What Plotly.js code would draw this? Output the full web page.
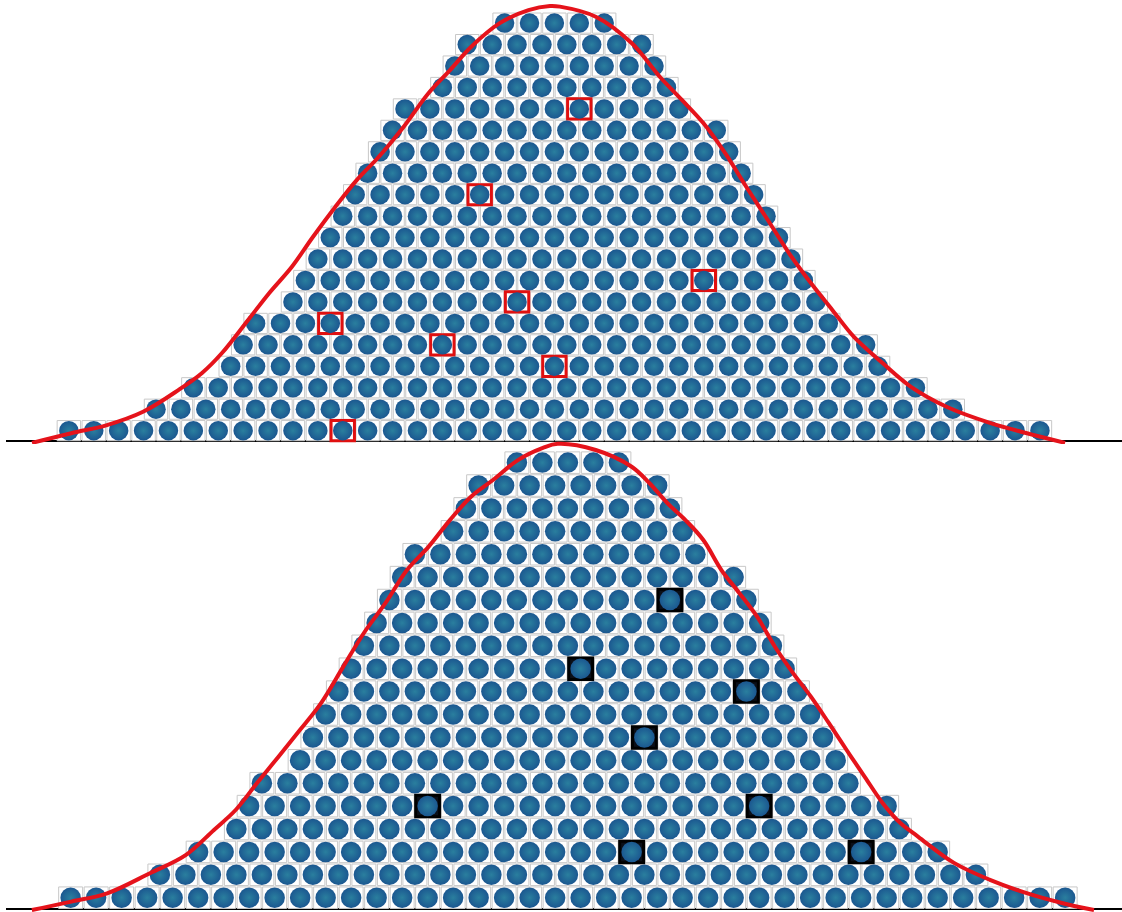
<!DOCTYPE html>
<html>
<head>
<meta charset="utf-8">
<script src="https://cdn.plot.ly/plotly-3.0.1.min.js"></script>
<style>
  html, body { margin: 0; padding: 0; background: #ffffff; }
  #chart { width: 1122px; height: 912px; }
</style>
</head>
<body>
<div id="chart"></div>
<script>
// Two stacked dot histograms (same stack profile), each with its fitted bell curve
// Row 0 is the bottom row; x is measured in cell widths
const rowStart = [0, 3.5, 5, 6.5, 7, 7.5, 9, 9.5, 10, 10.5, 11, 11.5, 12, 12.5, 13, 13.5, 15, 15.5, 16, 17.5];
const rowCount = [40, 33, 30, 27, 26, 24, 22, 21, 20, 19, 18, 17, 16, 15, 14, 12, 10, 9, 8, 5];

// highlighted samples: red boxes on top, black boxes below
const topMarkRow = [0, 3, 4, 5, 6, 7, 11, 15];
const topMarkX = [11.5, 20, 15.5, 11, 18.5, 26, 17, 21];
const botMarkRow = [2, 2, 4, 4, 7, 9, 10, 13];
const botMarkX = [22.5, 31.5, 14.5, 27.5, 23, 27, 20.5, 24];

// bell curves
const topCurveX = [-0.98, 0.6, 2.03, 3.48, 4.91, 5.85, 6.65, 7.7, 8.55, 9.45, 10.3, 11.2, 12.07, 12.94, 13.94, 14.95, 15.81, 16.65, 17.82, 18.96, 19.82, 20.22, 21.66, 23.1, 24.24, 25.12, 25.98, 26.85, 27.71, 28.57, 29.42, 30.3, 31.16, 32.03, 33.18, 34.32, 35.77, 37.49, 38.94, 40.51];
const topCurveY = [-0.07, 0.38, 0.76, 1.38, 2.4, 3.19, 4.12, 5.66, 6.92, 8.13, 9.53, 10.93, 12.19, 13.26, 14.66, 16.24, 17.31, 18.39, 19.51, 20.11, 20.3, 20.27, 19.8, 18.57, 16.99, 15.92, 14.84, 13.45, 11.86, 10.32, 8.78, 7.38, 6.13, 4.87, 3.65, 2.54, 1.6, 0.86, 0.39, -0.07];
const botCurveX = [-1.02, 0.53, 1.93, 3.61, 5.01, 6.12, 6.97, 7.81, 8.65, 9.49, 10.32, 11.18, 12.0, 12.85, 13.69, 14.54, 15.38, 16.2, 17.06, 18.04, 19.02, 19.6, 21.09, 22.5, 23.2, 23.91, 24.61, 25.31, 26.02, 26.72, 27.42, 28.12, 28.83, 29.53, 30.23, 30.93, 31.64, 32.34, 33.04, 33.74, 35.14, 36.55, 37.96, 39.37, 40.63];
const botCurveY = [-0.04, 0.33, 0.69, 1.57, 2.36, 3.46, 4.33, 5.51, 6.66, 7.82, 9.0, 10.57, 12.06, 13.37, 14.81, 15.83, 17.0, 18.01, 18.74, 19.61, 20.14, 20.32, 20.05, 19.32, 18.6, 17.72, 16.99, 16.12, 14.81, 13.81, 12.77, 11.46, 10.31, 9.28, 8.13, 6.95, 5.78, 4.64, 3.76, 3.16, 2.02, 1.28, 0.71, 0.27, -0.04];

const CELL = 0.94;
const BLOB = '#1b5790';
const BLOB_LIGHT = '#2a7f9e';
const CURVE_RED = '#e5131b';

function construirCeldas() {
  const xs = [];
  const ys = [];
  rowStart.forEach((s, r) => {
    for (let i = 0; i < rowCount[r]; i++) {
      xs.push(s + i + 0.5);
      ys.push(r + 0.5);
    }
  });
  return { xs, ys };
}

const { xs, ys } = construirCeldas();

function panel(xa, ya, markX, markRow, markStyle, curveX, curveY, blobSize) {
  const cajas = {
    type: 'bar',
    x: xs,
    y: xs.map(() => CELL),
    base: ys.map(v => v - CELL / 2),
    width: CELL,
    xaxis: xa, yaxis: ya,
    marker: { color: '#ffffff', line: { color: '#c8c8c8', width: 1 } },
    hoverinfo: 'skip',
  };
  const marcadas = {
    type: 'bar',
    x: markX,
    y: markX.map(() => CELL),
    base: markRow.map(r => r + 0.5 - CELL / 2),
    width: CELL,
    xaxis: xa, yaxis: ya,
    marker: markStyle,
    hoverinfo: 'skip',
  };
  const bolas = {
    type: 'scatter',
    mode: 'markers',
    x: xs,
    y: ys,
    xaxis: xa, yaxis: ya,
    marker: {
      symbol: 'circle',
      size: blobSize,
      color: BLOB,
      gradient: { type: 'radial', color: BLOB_LIGHT },
      line: { width: 0 },
    },
    hoverinfo: 'skip',
  };
  const curva = {
    type: 'scatter',
    mode: 'lines',
    x: curveX,
    y: curveY,
    xaxis: xa, yaxis: ya,
    line: { color: CURVE_RED, width: 4, shape: 'spline' },
    hoverinfo: 'skip',
  };
  return [cajas, marcadas, bolas, curva];
}

const datos = [
  ...panel('x', 'y', topMarkX, topMarkRow,
    { color: 'rgba(255,255,255,0)', line: { color: '#e01010', width: 3 } },
    topCurveX, topCurveY, 19.5),
  ...panel('x2', 'y2', botMarkX, botMarkRow,
    { color: '#0b0f18', line: { color: '#000000', width: 3 } },
    botCurveX, botCurveY, 20.5),
];

const ejeBase = {
  showgrid: false,
  showticklabels: false,
  ticks: '',
  showline: false,
  zeroline: false,
  fixedrange: true,
};

const layout = {
  width: 1122,
  height: 912,
  margin: { l: 6, r: 0, t: 0, b: 0 },
  paper_bgcolor: '#ffffff',
  plot_bgcolor: 'rgba(0,0,0,0)',
  showlegend: false,
  barmode: 'overlay',
  xaxis: { ...ejeBase, domain: [0, 1], anchor: 'y', range: [-2.024, 42.795] },
  yaxis: { ...ejeBase, domain: [0.5132, 1], anchor: 'x', range: [-0.121, 20.578],
    zeroline: true, zerolinecolor: '#000000', zerolinewidth: 2 },
  xaxis2: { ...ejeBase, domain: [0, 1], anchor: 'y2', range: [-2.035, 41.729] },
  yaxis2: { ...ejeBase, domain: [0, 0.5197], anchor: 'x2', range: [-0.1245, 20.574],
    zeroline: true, zerolinecolor: '#000000', zerolinewidth: 2 },
};

Plotly.newPlot('chart', datos, layout, { displayModeBar: false, staticPlot: true });
</script>
</body>
</html>
